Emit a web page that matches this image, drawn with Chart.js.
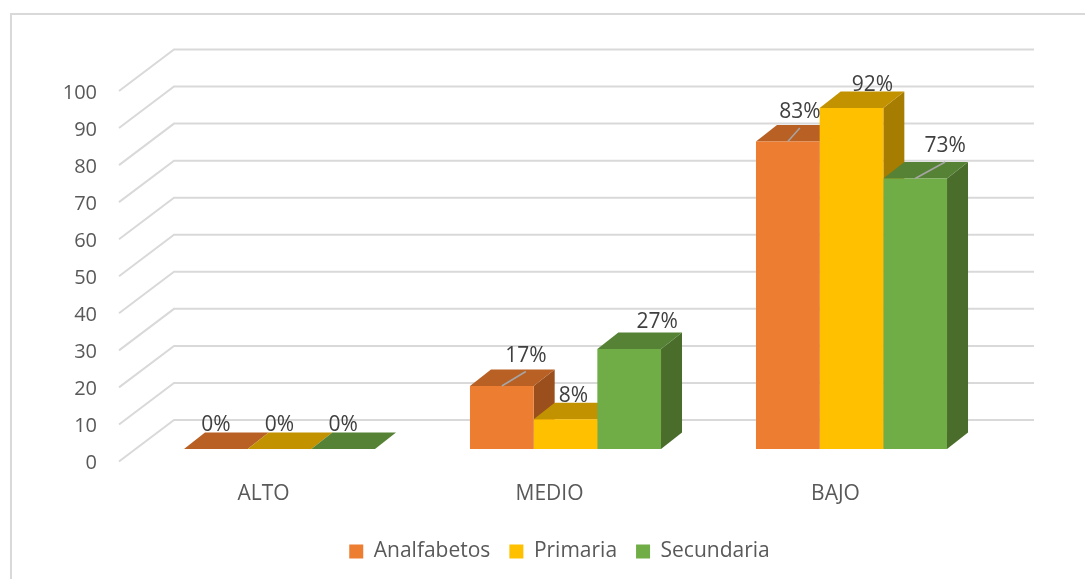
<!DOCTYPE html>
<html>
<head>
<meta charset="utf-8">
<script src="https://cdn.jsdelivr.net/npm/chart.js@4/dist/chart.umd.min.js"></script>
<style>
  html, body { margin: 0; padding: 0; background: #fff; overflow: hidden; }
  #frame { position: absolute; left: 10px; top: 13px; width: 1200px; height: 700px; border: 2px solid #d9d9d9; box-sizing: border-box; }
  #chart { position: absolute; left: 0; top: 0; }
</style>
</head>
<body>
<div id="frame"></div>
<canvas id="chart" width="1119" height="579"></canvas>
<script>
const categories = ['ALTO', 'MEDIO', 'BAJO'];
const analfabetos = [0, 17, 83];
const primaria = [0, 8, 92];
const secundaria = [0, 27, 73];
const yTicks = [0, 10, 20, 30, 40, 50, 60, 70, 80, 90, 100];

// bar face colours: front, top, side
const orangeFaces = ['#ED7D31', '#B96024', '#9A4F1D'];
const yellowFaces = ['#FFC000', '#C29200', '#A67D00'];
const greenFaces = ['#70AD47', '#568235', '#4A6D2C'];

// depth of the fake 3d
const BAR_DX = 21;
const BAR_DY = 16.5;
const WALL_DX = 55;
const WALL_DY = 41.5;
const WALL_RIGHT = 1034;
const WALL_LIFT = 2; // tick text sits a bit above its line in this font

// data label nudges from the bar's top centre, [dx, dy, leader line]
const analfabetosNudge = [[0, -24, false], [24, -30, true], [12, -29, true]];
const primariaNudge = [[0, -24, false], [8, -23, false], [21, -23, false]];
const secundariaNudge = [[0, -24, false], [28, -27, false], [30, -32, true]];

const FONT = '"Open Sans", sans-serif';

const wall3d = {
  id: 'wall3d',
  beforeDatasetsDraw(chart) {
    const ctx = chart.ctx;
    const wall = chart.scales.yWall;
    const left = chart.chartArea.left - 17.5;
    ctx.save();
    ctx.strokeStyle = '#D9D9D9';
    ctx.lineWidth = 2;
    yTicks.forEach(v => {
      const y = wall.getPixelForValue(v) - WALL_LIFT;
      ctx.beginPath();
      ctx.moveTo(left, y);
      ctx.lineTo(left + WALL_DX, y - WALL_DY);
      ctx.lineTo(WALL_RIGHT, y - WALL_DY);
      ctx.stroke();
    });
    ctx.restore();
  }
};

// side and top faces of every bar go in first, the library's front rectangles cover them
const bars3d = {
  id: 'bars3d',
  beforeDatasetsDraw(chart) {
    const ctx = chart.ctx;
    chart.data.datasets.forEach((ds, i) => {
      chart.getDatasetMeta(i).data.forEach(bar => {
        const w = bar.width / 2;
        const x0 = bar.x - w;
        const x1 = bar.x + w;
        const top = bar.y;
        const base = bar.base;
        ctx.fillStyle = ds.faces[2];
        ctx.beginPath();
        ctx.moveTo(x1, top);
        ctx.lineTo(x1 + BAR_DX, top - BAR_DY);
        ctx.lineTo(x1 + BAR_DX, base - BAR_DY);
        ctx.lineTo(x1, base);
        ctx.closePath();
        ctx.fill();
        ctx.fillStyle = ds.faces[1];
        ctx.beginPath();
        ctx.moveTo(x0, top);
        ctx.lineTo(x0 + BAR_DX, top - BAR_DY);
        ctx.lineTo(x1 + BAR_DX, top - BAR_DY);
        ctx.lineTo(x1, top);
        ctx.closePath();
        ctx.fill();
      });
    });
  },
  afterDatasetsDraw(chart) {
    const ctx = chart.ctx;
    ctx.save();
    ctx.font = '21px ' + FONT;
    ctx.textAlign = 'center';
    ctx.textBaseline = 'middle';
    chart.data.datasets.forEach((ds, i) => {
      chart.getDatasetMeta(i).data.forEach((bar, j) => {
        const nudge = ds.nudge[j];
        if (nudge[2]) {
          ctx.strokeStyle = '#A6A6A6';
          ctx.lineWidth = 1.5;
          ctx.beginPath();
          ctx.moveTo(bar.x, bar.y);
          ctx.lineTo(bar.x + nudge[0], bar.y + nudge[1] + 15.5);
          ctx.stroke();
        }
        ctx.fillStyle = '#404040';
        ctx.fillText(ds.data[j] + '%', bar.x + nudge[0], bar.y + nudge[1]);
      });
    });
    ctx.restore();
  }
};

new Chart(document.getElementById('chart'), {
  type: 'bar',
  data: {
    labels: categories,
    datasets: [
      { label: 'Analfabetos', data: analfabetos, backgroundColor: orangeFaces[0], faces: orangeFaces, nudge: analfabetosNudge },
      { label: 'Primaria', data: primaria, backgroundColor: yellowFaces[0], faces: yellowFaces, nudge: primariaNudge },
      { label: 'Secundaria', data: secundaria, backgroundColor: greenFaces[0], faces: greenFaces, nudge: secundariaNudge }
    ]
  },
  options: {
    responsive: false,
    animation: false,
    layout: { padding: { left: 0, right: 0, top: 93, bottom: 7 } },
    datasets: { bar: { categoryPercentage: 0.668, barPercentage: 1 } },
    plugins: {
      tooltip: { enabled: false },
      legend: {
        position: 'bottom',
        labels: { boxWidth: 14, boxHeight: 14, padding: 19, color: '#595959', font: { family: FONT, size: 21 } }
      }
    },
    scales: {
      x: {
        grid: { display: false },
        border: { display: false },
        ticks: { labelOffset: -16, padding: 10, color: '#595959', font: { family: FONT, size: 21 } },
        afterFit(scale) { scale.height = 58.5; }
      },
      // bars stand in front of the wall, so their zero sits above the wall's.
      // this axis has no text, it only holds the right margin so the legend stays centred on 559.5
      y: {
        position: 'right',
        min: -3.92,
        max: 96.08,
        grid: { display: false, drawTicks: false },
        border: { display: false },
        ticks: { display: false },
        afterFit(scale) { scale.width = 124.5; }
      },
      yWall: {
        position: 'left',
        min: 0,
        max: 100,
        grid: { display: false, drawTicks: false },
        border: { display: false },
        ticks: { stepSize: 10, padding: 39.5, color: '#595959', font: { family: FONT, size: 20 } },
        afterBuildTicks(scale) { scale.ticks = yTicks.map(value => ({ value })); },
        afterFit(scale) { scale.width = 136.5; }
      }
    }
  },
  plugins: [wall3d, bars3d]
});
</script>
</body>
</html>
